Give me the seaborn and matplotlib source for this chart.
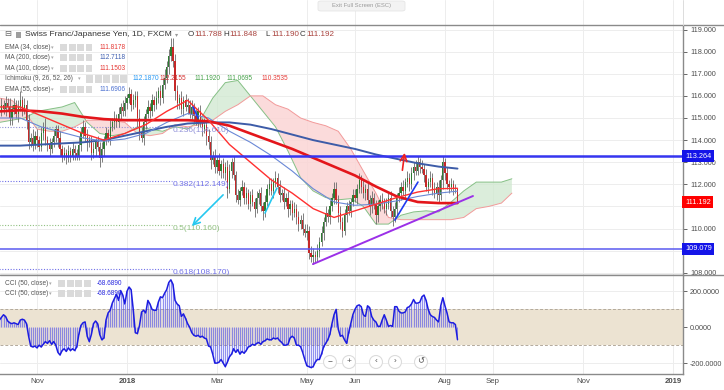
import numpy as np
import pandas as pd
import matplotlib
matplotlib.use('Agg')
import matplotlib.pyplot as plt
from matplotlib.patches import Rectangle, Ellipse, FancyBboxPatch
from matplotlib.lines import Line2D
import seaborn as sns

W, H = 724, 390

# ---- data (daily bars, CHF/JPY) ----
start_date = '2017-10-06'
first_open = 115.1

close = [
    115.3, 115.6, 115.4, 115.7, 115.5, 115.0, 115.4, 115.6, 115.2, 115.5,
    115.8, 115.4, 115.6, 114.9, 113.9, 114.1, 113.8, 114.2, 114.0, 113.7,
    114.3, 114.6, 114.0, 113.8, 113.6, 113.9, 114.2, 114.5, 114.1, 113.6,
    113.3, 113.4, 113.2, 113.5, 113.3, 113.6, 113.4, 113.3, 113.8, 114.3,
    114.6, 114.2, 113.9, 114.0, 113.4, 113.6, 113.9, 113.7, 113.2, 113.6,
    114.0, 114.3, 114.1, 114.6, 114.8, 115.0, 114.8, 115.2, 115.5, 115.3,
    115.7, 115.9, 116.1, 115.6, 115.8, 116.0, 115.0, 114.3, 114.1, 114.8,
    115.2, 115.5, 115.3, 115.8, 115.6, 115.9, 116.2, 115.9, 116.5, 116.8,
    117.3, 117.8, 118.2, 117.6, 116.2, 115.7, 115.9, 115.4, 115.8, 115.5,
    115.6, 115.2, 115.5, 115.1, 114.9, 115.3, 114.8, 114.5, 114.7, 114.2,
    113.9, 113.1, 113.3, 112.8, 113.1, 112.6, 112.9, 112.5, 112.8, 111.8,
    112.6, 113.0, 112.4, 111.5, 111.3, 111.7, 111.9, 111.4, 111.6, 111.1,
    111.5, 111.2, 110.9, 111.4, 111.6, 111.0, 110.8, 111.2, 111.8, 112.0,
    111.7, 112.1, 112.3, 111.9, 111.5, 111.6, 111.2, 111.4, 110.9, 111.1,
    110.7, 110.9, 110.5, 110.2, 110.4, 110.0, 109.8, 109.9, 108.9, 108.7,
    108.8, 108.7, 109.0, 109.4, 109.8, 110.3, 110.7, 110.5, 111.0, 111.4,
    111.8, 111.3, 110.7, 110.3, 109.9, 110.6, 111.0, 110.8, 111.2, 111.5,
    111.4, 111.8, 112.2, 111.9, 111.6, 111.8, 111.3, 111.0, 111.4, 111.1,
    110.6, 111.0, 111.3, 111.2, 110.9, 111.1, 111.4, 110.8, 110.5, 110.9,
    111.4, 111.6, 111.9, 111.7, 112.1, 112.3, 112.0, 112.5, 112.8, 112.6,
    113.0, 112.8, 112.7, 112.4, 111.9, 112.1, 112.3, 111.8, 111.6, 111.9,
    111.5, 112.2, 113.0, 112.5, 112.0, 111.9, 112.0, 111.8, 111.788, 111.192,
]

# wick lengths above / below the body, in tenths of a yen
wick_hi = [
    2, 3, 2, 3, 2, 4, 2, 3, 2, 3,  4, 2, 3, 2, 3, 2, 4, 2, 3, 2,
    3, 2, 4, 2, 3, 2, 3, 2, 2, 3,  2, 3, 2, 3, 2, 3, 2, 2, 4, 3,
    3, 2, 3, 2, 2, 3, 2, 3, 2, 3,  2, 3, 2, 3, 2, 3, 2, 3, 2, 3,
    3, 2, 3, 2, 3, 2, 2, 4, 3, 3,  2, 3, 2, 3, 2, 3, 2, 3, 3, 4,
    3, 3, 4, 4, 3, 3, 2, 3, 2, 3,  3, 2, 3, 2, 3, 2, 3, 2, 3, 2,
    3, 3, 2, 3, 2, 3, 2, 3, 2, 3,  3, 2, 3, 2, 3, 2, 3, 2, 3, 2,
    2, 3, 2, 3, 2, 3, 2, 3, 2, 3,  3, 2, 3, 2, 3, 2, 3, 2, 3, 2,
    2, 3, 2, 3, 2, 3, 2, 3, 2, 3,  3, 2, 3, 2, 3, 2, 3, 2, 3, 2,
    3, 3, 2, 3, 2, 3, 2, 3, 2, 3,  3, 2, 3, 2, 3, 2, 3, 2, 3, 2,
    2, 3, 2, 3, 2, 3, 2, 3, 2, 3,  2, 3, 2, 3, 2, 3, 2, 3, 2, 3,
    3, 2, 3, 2, 3, 2, 3, 2, 3, 2,  3, 2, 3, 2, 3, 2, 3, 2, 2, 0.6,
]
wick_lo = [
    3, 2, 2, 3, 2, 3, 3, 2, 2, 4,  2, 3, 2, 4, 3, 2, 3, 2, 3, 2,
    2, 3, 2, 3, 3, 2, 2, 3, 4, 3,  3, 2, 3, 2, 3, 2, 3, 2, 2, 3,
    2, 3, 4, 2, 3, 2, 3, 2, 4, 2,  3, 2, 2, 3, 2, 3, 2, 2, 3, 2,
    2, 3, 2, 3, 2, 3, 4, 3, 2, 3,  3, 2, 3, 2, 3, 2, 2, 3, 2, 2,
    2, 3, 2, 3, 4, 3, 3, 2, 3, 2,  3, 2, 3, 3, 2, 3, 2, 3, 2, 4,
    3, 4, 2, 3, 3, 2, 3, 2, 3, 4,  2, 3, 2, 3, 2, 3, 2, 3, 3, 2,
    3, 2, 4, 2, 3, 2, 4, 3, 2, 3,  2, 3, 2, 3, 3, 2, 3, 2, 4, 3,
    3, 2, 3, 3, 2, 3, 2, 3, 3, 2,  3, 2, 2, 3, 2, 3, 2, 2, 3, 2,
    3, 2, 4, 3, 3, 2, 3, 2, 3, 2,  2, 3, 2, 3, 2, 3, 2, 4, 3, 2,
    4, 3, 2, 3, 2, 3, 2, 3, 4, 2,  3, 2, 3, 2, 3, 2, 3, 2, 3, 2,
    2, 3, 2, 3, 2, 3, 2, 3, 2, 3,  3, 2, 4, 3, 2, 3, 2, 3, 2, 0.1,
]

# moving averages, sampled every 10 bars
ma_idx = [0, 10, 20, 30, 40, 50, 60, 70, 80, 90, 100, 110, 120, 130, 140,
          150, 160, 170, 180, 190, 200, 210, 219]
ema34 = [115.5, 115.5, 115.1, 114.7, 114.3, 114.0, 114.3, 114.7, 115.3, 115.8,
         114.9, 113.8, 113.0, 112.2, 111.6, 110.9, 110.5, 110.8, 111.1, 111.4,
         111.65, 111.8, 111.82]
ema55 = [115.0, 115.0, 114.6, 114.35, 114.1, 113.95, 114.05, 114.3, 114.8, 115.2,
         115.0, 114.4, 113.9, 113.3, 112.6, 111.8, 111.2, 111.05, 111.1, 111.25,
         111.45, 111.6, 111.69]
ma100 = [115.3, 115.35, 115.3, 115.2, 115.05, 114.95, 114.9, 114.9, 114.9, 114.9,
         114.85, 114.65, 114.3, 113.95, 113.6, 113.2, 112.8, 112.4, 111.9, 111.45,
         111.2, 111.15, 111.15]
ma200 = [113.75, 113.75, 113.8, 113.85, 113.9, 114.0, 114.2, 114.4, 114.6, 114.75,
         114.8, 114.8, 114.7, 114.5, 114.25, 114.0, 113.8, 113.6, 113.35, 113.15,
         112.95, 112.8, 112.71]

# ichimoku cloud edges (already shifted forward), sampled every 6 bars
cloud_idx = list(range(0, 246, 6)) + [245]
span_a = [114.8, 114.9, 115.0, 115.3, 115.4, 115.5, 115.7, 114.8, 114.3, 114.2,
          114.3, 114.6, 114.5, 114.4, 114.6, 114.5, 114.9, 115.9, 116.6, 116.7,
          116.0, 115.3, 114.6, 113.5, 112.3, 111.7, 111.4, 111.3, 111.35, 111.0,
          110.2, 110.2, 110.6, 110.75, 110.8, 110.75, 111.2, 111.7, 112.1, 112.1,
          112.1, 112.25]
span_b = [115.9, 115.8, 115.3, 114.5, 114.4, 114.4, 114.6, 114.9, 114.9, 114.9,
          114.8, 114.3, 114.2, 114.3, 114.7, 114.6, 114.7, 114.9, 115.3, 115.6,
          116.0, 116.0, 115.6, 115.4, 115.0, 114.8, 114.65, 114.4, 113.6, 112.6,
          111.6, 110.5, 110.4, 110.4, 110.4, 110.4, 110.4, 110.5, 110.9, 111.0,
          111.15, 111.6]

# CCI (50) per bar
cci = [
    40, 55, 70, 60, 35, 25, 20, 25, 20, 15,
    40, 45, 40, 20, -50, -105, -110, -105, -115, -100,
    -110, -95, -80, -90, -75, -95, -80, -100, -140, -155,
    -130, -120, -135, -115, -130, -120, -130, -110, -40, 10,
    25, 30, -50, -80, -40, 20, 35, 20, -40, -70,
    -60, 40, 80, 95, 135, 160, 185, 150, 205, 180,
    130, 200, 225, 210, 100, -30, -35, 10, 85, 95,
    80, 150, 130, 100, 95, 95, 140, 170, 165, 190,
    210, 250, 265, 240, 150, 130, 120, 60, 75, 50,
    20, 0, -30, -45, -50, -45, -55, -50, -60, -65,
    -105, -110, -150, -200, -200, -195, -180, -200, -220, -195,
    -165, -150, -120, -140, -125, -150, -135, -145, -130, -110,
    -105, -95, -100, -90, -85, -95, -80, -75, -65, -70,
    -70, -60, -65, -60, -75, -85, -100, -100, -95, -60,
    -50, -60, -100, -100, -108, -140, -180, -215, -220, -225,
    -220, -195, -180, -180, -150, -110, -90, -70, -40, 20,
    70, 100, -10, -50, -45, -70, -90, -30, 20, 70,
    100, 120, 125, 115, 70, 60, 120, 110, 60, 40,
    30, 5, 5, 40, 70, 40, 5, 10, 5, 115,
    115, 90, 80, 80, 85, 110, 115, 130, 155, 135,
    135, 140, 170, 180, 150, 100, 70, 60, 55, 40,
    30, 120, 165, 120, 80, 30, 25, 25, 15, -68.689,
]

# horizontal levels and fibonacci retracement
level_hi, level_lo = 113.264, 109.079
last_close = 111.192
fib_ratios = ['0.236', '0.382', '0.5', '0.618']
fib_levels = [114.610, 112.149, 110.160, 108.170]

# hand drawn lines: (bar, price) pairs
purple_line = [(149.9, 108.39), (226.4, 111.47)]
cyan_arrow = [(107.9, 111.61), (91.1, 110.02)]
cyan_line = [(127.0, 110.70), (132.7, 111.83)]
blue_line = [(189.1, 110.38), (200.1, 112.10)]
blue_tick = [(92.6, 115.50), (95.0, 115.00)]
red_arrow = [(192.5, 112.51), (193.9, 113.55)]

tick_dates = ['2017-11-01', '2018-01-01', '2018-03-01', '2018-05-01', '2018-06-01',
              '2018-08-01', '2018-09-03', '2018-11-01', '2019-01-01']
tick_labels = ['Nov', '2018', 'Mar', 'May', 'Jun', 'Aug', 'Sep', 'Nov', '2019']

# price axis labels (the ones at 109 and 111 sit under the price tags)
price_ticks = [108, 110, 112, 113, 114, 115, 116, 117, 118, 119]

legend_rows = ['EMA (34, close)', 'MA (200, close)', 'MA (100, close)', 'EMA (55, close)']
legend_vals = ['111.8178', '112.7118', '111.1503', '111.6906']
ichi_vals = ['112.1870', '112.2155', '111.1920', '111.0695', '110.3535']
ohlc_keys = ['O', 'H', 'L', 'C']
ohlc_vals = ['111.788', '111.848', '111.190', '111.192']

# ---- figure ----
sns.set_theme(style='white')
plt.rcParams['font.family'] = ['Liberation Sans', 'DejaVu Sans']

fig = plt.figure(figsize=(W / 100, H / 100), dpi=100)


def fx(x):
    return x / W


def fy(y):
    return 1 - y / H


ax = fig.add_axes([0, fy(275), fx(683), 250 / H])
ax2 = fig.add_axes([0, fy(374), fx(683), 99 / H], sharex=ax)
ax_top = fig.add_axes([0, fy(25), fx(683), 25 / H], sharex=ax)

idx = np.arange(len(close))
close = np.array(close)
opens = np.r_[first_open, close[:-1]]
highs = np.maximum(opens, close) + np.array(wick_hi) * 0.1
lows = np.minimum(opens, close) - np.array(wick_lo) * 0.1

dates = pd.bdate_range(start_date, periods=340)
tick_pos = dates.searchsorted(pd.to_datetime(tick_dates))

grid_c = '#ededed'
for a in (ax, ax2, ax_top):
    for p in tick_pos:
        a.axvline(p, color=grid_c, lw=0.7, zorder=0)
for p in range(108, 120):
    ax.axhline(p, color=grid_c, lw=0.7, zorder=0)
for p in (-200, 200):
    ax2.axhline(p, color=grid_c, lw=0.7, zorder=0)

# ichimoku cloud
ca, cb = np.array(span_a), np.array(span_b)
ax.fill_between(cloud_idx, ca, cb, where=ca >= cb, interpolate=True,
                color='#cfe8cf', alpha=0.75, lw=0, zorder=1)
ax.fill_between(cloud_idx, ca, cb, where=ca < cb, interpolate=True,
                color='#fbd3d3', alpha=0.8, lw=0, zorder=1)
ax.plot(cloud_idx, ca, color='#86c086', lw=0.7, zorder=1.2)
ax.plot(cloud_idx, cb, color='#f29a9a', lw=0.7, zorder=1.2)

# fibonacci
fib_colors = ['#9090d8', '#7070e8', '#90c080', '#7070e8']
fib_end = 82.5
for r, lv, c in zip(fib_ratios, fib_levels, fib_colors):
    ax.hlines(lv, 0, fib_end, colors=c, linestyles=(0, (1, 1.5)), lw=0.8, zorder=1.5)
    ax.text(fib_end + 0.3, lv - 0.18, f'{r}({lv:.3f})', fontsize=6, color=c,
            va='center', ha='left', zorder=6)

# candles
ax.vlines(idx, lows, highs, color='#6a6a6a', lw=0.6, zorder=3)
body_c = np.where(close >= opens, '#2e7d32', '#c62828')
ax.bar(idx, np.maximum(np.abs(close - opens), 0.04), bottom=np.minimum(opens, close),
       width=0.62, color=body_c, linewidth=0, zorder=4)

# moving averages
sns.lineplot(x=ma_idx, y=ma200, ax=ax, color='#3d5ca8', lw=1.4, zorder=5)
sns.lineplot(x=ma_idx, y=ema55, ax=ax, color='#6a88d6', lw=0.8, zorder=5)
sns.lineplot(x=ma_idx, y=ma100, ax=ax, color='#e3161b', lw=1.9, zorder=5)
sns.lineplot(x=ma_idx, y=ema34, ax=ax, color='#ff3030', lw=1.0, zorder=5)

# horizontal levels
ax.axhline(level_hi, color='#3535f0', lw=1.8, zorder=5)
ax.axhline(level_lo, color='#5a5af0', lw=1.1, zorder=5)

# drawings
ax.plot(*zip(*purple_line), color='#9b30e8', lw=1.4, zorder=6)
ax.plot(*zip(*cyan_line), color='#25c8f0', lw=1.2, zorder=6)
ax.plot(*zip(*blue_line), color='#1f3cf0', lw=1.2, zorder=6)
ax.plot(*zip(*blue_tick), color='#1f3cf0', lw=1.2, zorder=6)
ax.annotate('', xy=cyan_arrow[1], xytext=cyan_arrow[0], zorder=6,
            arrowprops=dict(arrowstyle='->', color='#25c8f0', lw=1.2))
ax.annotate('', xy=red_arrow[1], xytext=red_arrow[0], zorder=6,
            arrowprops=dict(arrowstyle='->', color='#f02020', lw=1.2))

ax.set_ylim(107.896, 119.208)
ax.set_xlim(0.32, 326.8)
ax.set_xlabel('')
ax.set_ylabel('')

# CCI panel
ax2.axhspan(-100, 100, color='#ece3d2', lw=0, zorder=0.5)
for lv in (-100, 100):
    ax2.axhline(lv, color='#b3aa9c', lw=0.7, ls=(0, (3, 2)), zorder=0.6)
ax2.fill_between(idx, 0, cci, color='#7b7bf0', alpha=0.15, lw=0, zorder=1)
ax2.vlines(idx, 0, cci, colors='#5050e6', lw=0.55, alpha=0.75, zorder=2)
sns.lineplot(x=idx, y=cci, ax=ax2, color='#1c1ce0', lw=1.1, zorder=3)
ax2.set_ylim(-261, 292)
ax2.set_xlabel('')
ax2.set_ylabel('')

# axes styling
txt_c = '#4d4d4d'
spine_c = '#8a8a8a'
ax.yaxis.tick_right()
ax.set_yticks(price_ticks)
ax.set_yticklabels([f'{v:.3f}' for v in price_ticks])
ax.tick_params(axis='y', labelsize=5.2, colors=txt_c, length=3, pad=2, width=0.6)
ax.tick_params(axis='x', bottom=False, labelbottom=False)
ax2.yaxis.tick_right()
ax2.set_yticks([-200, 0, 200])
ax2.set_yticklabels(['-200.0000', '0.0000', '200.0000'])
ax2.tick_params(axis='y', labelsize=5.2, colors=txt_c, length=3, pad=2, width=0.6)
ax2.set_xticks(tick_pos)
ax2.set_xticklabels(tick_labels)
ax2.tick_params(axis='x', labelsize=5.6, colors=txt_c, length=0, pad=3)
for lbl in ax2.get_xticklabels():
    if lbl.get_text() in ('2018', '2019'):
        lbl.set_fontweight('bold')
ax.grid(False)
ax2.grid(False)

for a in (ax, ax2):
    for s in a.spines.values():
        s.set_color(spine_c)
        s.set_linewidth(1)
    a.spines['left'].set_visible(False)
ax2.spines['top'].set_visible(False)
ax.spines['top'].set_visible(False)

ax_top.set_ylim(0, 1)
ax_top.tick_params(left=False, bottom=False, labelleft=False, labelbottom=False)
for s in ax_top.spines.values():
    s.set_visible(False)

for ypx in (25, 275):
    fig.add_artist(Line2D([0, 1], [fy(ypx), fy(ypx)], transform=fig.transFigure,
                          color=spine_c, lw=1))
fig.add_artist(Line2D([fx(683), fx(683)], [fy(0), fy(25)], transform=fig.transFigure,
                      color='#dcdcdc', lw=0.7))

# price tags on the right
for val, col in ((level_hi, '#1414e8'), (last_close, '#ff0000'), (level_lo, '#1414e8')):
    ax.text(1.003, val, f'{val:.3f}', transform=ax.get_yaxis_transform(),
            fontsize=5.3, color='white', va='center', ha='left', clip_on=False, zorder=20,
            bbox=dict(boxstyle='square,pad=0.35', fc=col, ec='none'))

# legend block, top left
fig.text(fx(4), fy(35), '⊟', fontsize=6, color='#666666', va='center')
fig.add_artist(Rectangle((fx(16), fy(38)), 5 / W, 6 / H, transform=fig.transFigure,
                         fc='#9e9e9e', ec='none'))
fig.text(fx(25), fy(35), 'Swiss Franc/Japanese Yen, 1D, FXCM', fontsize=6.1,
         color='#333333', va='center')
fig.text(fx(175), fy(35), '▾', fontsize=4.5, color='#999999', va='center')
for k, v, xp in zip(ohlc_keys, ohlc_vals, [188, 223, 265, 300]):
    fig.text(fx(xp), fy(35), k, fontsize=5.8, color='#333333', va='center')
    fig.text(fx(xp + 6.5), fy(35), v, fontsize=5.8, color='#a8413c', va='center')


def icon_row(x0, y, n):
    for j in range(n):
        fig.add_artist(Rectangle((fx(x0 + j * 8.5), fy(y + 3.5)), 7 / W, 7 / H,
                                 transform=fig.transFigure, fc='#dadada', ec='none'))


row_y = [47.3, 57.7, 68.3, 89.3]
row_c = ['#e53935', '#3f5fb0', '#e53935', '#4a6fd0']
for name, val, y, c in zip(legend_rows, legend_vals, row_y, row_c):
    fig.text(fx(5), fy(y), name, fontsize=4.7, color='#555555', va='center')
    fig.text(fx(51), fy(y), '▾', fontsize=3.8, color='#aaaaaa', va='center')
    icon_row(60, y, 4)
    fig.text(fx(100), fy(y), val, fontsize=4.7, color=c, va='center')

fig.text(fx(5), fy(79), 'Ichimoku (9, 26, 52, 26)', fontsize=4.7, color='#555555', va='center')
fig.text(fx(78), fy(79), '▾', fontsize=3.8, color='#aaaaaa', va='center')
icon_row(86, 79, 5)
ichi_cols = ['#2196f3', '#d32f2f', '#43a047', '#43a047', '#e53935']
for v, xp, c in zip(ichi_vals, [133, 160, 195, 227, 262], ichi_cols):
    fig.text(fx(xp), fy(79), v, fontsize=4.7, color=c, va='center')

for y in (283.5, 293.5):
    fig.text(fx(5), fy(y), 'CCI (50, close)', fontsize=4.7, color='#555555', va='center')
    fig.text(fx(49), fy(y), '▾', fontsize=3.8, color='#aaaaaa', va='center')
    icon_row(58, y, 4)
    fig.text(fx(97), fy(y), '-68.6890', fontsize=4.7, color='#2a2ae0', va='center')

# navigation buttons
for cx, sym in zip([330, 349, 376, 395, 421], ['−', '+', '‹', '›', '↺']):
    fig.add_artist(Ellipse((fx(cx), fy(362)), 13 / W, 13 / H, transform=fig.transFigure,
                           fc='white', ec='#dcdcdc', lw=0.8, zorder=10))
    fig.text(fx(cx), fy(362), sym, ha='center', va='center', fontsize=6,
             color='#555555', zorder=11)

# exit full screen hint
fig.add_artist(FancyBboxPatch((fx(318), fy(11)), 87 / W, 10 / H,
                              boxstyle='round,pad=0,rounding_size=0.004',
                              transform=fig.transFigure, fc='#f3f3f3', ec='#e2e2e2', lw=0.5))
fig.text(fx(362), fy(6), 'Exit Full Screen (ESC)', ha='center', va='center',
         fontsize=4.2, color='#9a9a9a')

fig.savefig('out.png', dpi=100, facecolor='white')
